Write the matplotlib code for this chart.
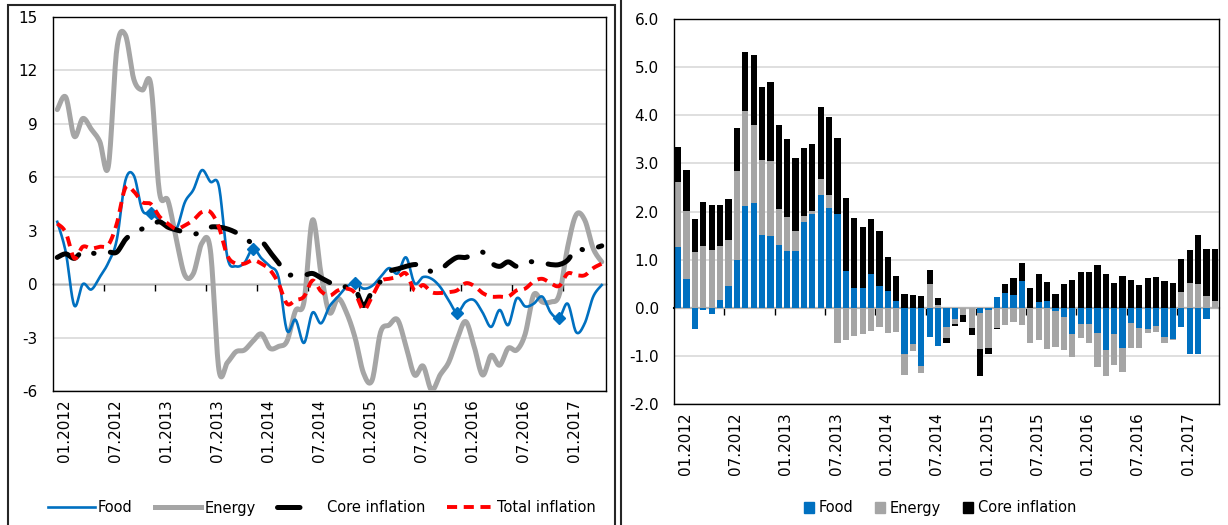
import numpy as np
import matplotlib
matplotlib.use("Agg")
import matplotlib.pyplot as plt
from matplotlib.lines import Line2D
from matplotlib.patches import Patch, Rectangle
import matplotlib.transforms as mtransforms

plt.rcParams['font.family'] = ['DejaVu Sans']
plt.rcParams['axes.unicode_minus'] = False

# ---------------- data (monthly, 01.2012 - 05.2017) ----------------
tick_labels = ["01.2012", "07.2012", "01.2013", "07.2013", "01.2014", "07.2014",
               "01.2015", "07.2015", "01.2016", "07.2016", "01.2017"]

# left panel: annual rates (%)
food_yoy = [3.5, 1.8, -1.2, 0.0, -0.3, 0.4, 1.2, 2.5, 5.8, 6.1,
            4.15, 4.0, 3.6, 3.3, 3.1, 4.6, 5.3, 6.4, 5.75, 5.5,
            1.5, 1.0, 1.2, 2.0, 1.45, 1.0, 0.4, -2.6, -2.0, -3.3,
            -1.6, -2.2, -1.25, -0.7, -0.15, 0.05, -0.25, -0.1, 0.4, 0.9,
            0.6, 1.5, 0.05, 0.4, 0.3, -0.15, -0.9, -1.6, -1.0, -0.9,
            -1.6, -2.4, -1.45, -2.3, -0.8, -1.25, -1.1, -0.7, -1.6, -1.9,
            -1.1, -2.7, -2.2, -0.7, -0.05]
energy_yoy = [9.8, 10.5, 8.3, 9.3, 8.7, 8.0, 6.6, 13.2, 14.0, 11.5,
              10.9, 11.2, 5.2, 4.7, 2.5, 0.5, 0.6, 2.3, 1.9, -4.8,
              -4.4, -3.8, -3.7, -3.2, -2.8, -3.6, -3.5, -3.2, -1.5, -1.0,
              3.6, 0.6, -1.6, -0.8, -1.6, -3.0, -5.0, -5.4, -2.7, -2.3,
              -2.0, -3.5, -5.1, -4.6, -5.95, -5.1, -4.4, -3.1, -2.1, -3.5,
              -5.1, -4.0, -4.55, -3.6, -3.7, -2.8, -0.6, -1.0, -1.0, -0.6,
              2.1, 3.9, 3.6, 2.0, 1.25]
core_yoy = [1.5, 1.7, 1.45, 1.85, 1.75, 1.7, 1.8, 1.8, 2.5, 2.9,
            3.1, 3.3, 3.5, 3.2, 3.05, 2.9, 2.8, 2.95, 3.2, 3.2,
            3.1, 2.9, 2.6, 2.3, 2.4, 1.8, 1.2, 0.55, 0.55, 0.5,
            0.6, 0.35, 0.1, -0.15, -0.15, -0.25, -1.2, -0.4, 0.15, 0.7,
            0.85, 1.0, 1.1, 1.05, 0.7, 0.8, 1.2, 1.5, 1.5, 1.7,
            1.8, 1.2, 1.0, 1.25, 1.0, 1.25, 1.25, 1.2, 1.1, 1.1,
            1.35, 2.0, 1.9, 2.0, 2.15]
total_yoy = [3.4, 2.9, 1.45, 2.1, 2.0, 2.1, 2.2, 3.4, 5.4, 5.2,
             4.6, 4.5, 3.8, 3.4, 3.1, 3.3, 3.6, 4.05, 4.05, 3.2,
             1.6, 1.15, 1.15, 1.35, 1.15, 0.8, 0.05, -1.1, -0.9, -0.7,
             0.2, -0.4, -0.65, -0.35, -0.25, -0.5, -1.45, -0.7, 0.15, 0.3,
             0.4, 0.6, -0.35, -0.05, -0.45, -0.5, -0.45, -0.35, 0.05, -0.1,
             -0.5, -0.7, -0.7, -0.7, -0.35, -0.25, 0.15, 0.3, 0.05, -0.1,
             0.6, 0.5, 0.5, 0.9, 1.15]

# right panel: contributions (pp)
food_contrib = [1.26, 0.60, -0.44, -0.04, -0.12, 0.17, 0.46, 1.00, 2.12, 2.17,
                1.51, 1.49, 1.30, 1.18, 1.18, 1.79, 1.94, 2.34, 2.08, 1.94,
                0.76, 0.42, 0.41, 0.71, 0.46, 0.35, 0.14, -0.96, -0.76, -1.21,
                -0.60, -0.80, -0.40, -0.23, 0.0, 0.0, -0.11, -0.05, 0.22, 0.31,
                0.26, 0.55, 0.0, 0.12, 0.14, -0.07, -0.19, -0.55, -0.33, -0.34,
                -0.53, -0.88, -0.55, -0.84, -0.31, -0.42, -0.44, -0.37, -0.61, -0.64,
                -0.40, -0.97, -0.96, -0.24, 0.0]
energy_contrib = [1.35, 1.42, 1.15, 1.29, 1.19, 1.11, 0.95, 1.85, 1.97, 1.63,
                  1.55, 1.56, 0.76, 0.71, 0.41, 0.12, 0.08, 0.33, 0.27, -0.73,
                  -0.68, -0.58, -0.55, -0.49, -0.41, -0.53, -0.51, -0.44, -0.14, -0.14,
                  0.49, 0.06, -0.23, -0.10, -0.15, -0.42, -0.75, -0.78, -0.42, -0.35,
                  -0.29, -0.36, -0.74, -0.68, -0.85, -0.74, -0.68, -0.47, -0.29, -0.40,
                  -0.70, -0.54, -0.63, -0.49, -0.53, -0.42, -0.09, -0.14, -0.13, -0.04,
                  0.33, 0.51, 0.50, 0.24, 0.15]
core_contrib = [0.74, 0.85, 0.70, 0.91, 0.94, 0.86, 0.86, 0.88, 1.23, 1.46,
                1.53, 1.64, 1.74, 1.61, 1.52, 1.41, 1.39, 1.50, 1.61, 1.58,
                1.53, 1.45, 1.26, 1.13, 1.13, 0.70, 0.53, 0.28, 0.26, 0.24,
                0.29, 0.15, -0.10, -0.05, -0.15, -0.14, -0.55, -0.13, -0.02, 0.19,
                0.35, 0.39, 0.42, 0.58, 0.39, 0.28, 0.49, 0.58, 0.75, 0.74,
                0.88, 0.71, 0.51, 0.67, 0.58, 0.48, 0.62, 0.64, 0.56, 0.51,
                0.69, 0.69, 1.02, 0.99, 1.07]

BLUE = '#0070C0'
GRAY = '#A5A5A5'
RED = '#FF0000'
GRID = '#D9D9D9'
FS = 10
FS_TICK = 11

W, H = 1228, 525
fig = plt.figure(figsize=(W / 100, H / 100), dpi=100)


def px_rect(l, t, r, b):
    return [l / W, 1 - b / H, (r - l) / W, (b - t) / H]


def smooth(xv, yv, k=16):
    """Excel-style smoothed line: cubic Bezier through the points (Catmull-Rom tangents)."""
    p = np.column_stack([xv, yv]).astype(float)
    pp = np.vstack([p[0], p, p[-1]])
    t = np.linspace(0, 1, k, endpoint=False)[:, None]
    out = []
    for i in range(len(p) - 1):
        p0, p1, p2, p3 = pp[i], pp[i + 1], pp[i + 2], pp[i + 3]
        c1 = p1 + (p2 - p0) / 6.0
        c2 = p2 - (p3 - p1) / 6.0
        seg = ((1 - t) ** 3) * p1 + 3 * ((1 - t) ** 2) * t * c1 + 3 * (1 - t) * t ** 2 * c2 + t ** 3 * p2
        out.append(seg)
    out.append(p[-1][None, :])
    out = np.vstack(out)
    return out[:, 0], out[:, 1]


n = len(food_yoy)
x = np.arange(n)
tick_pos = np.arange(0, n, 6)[:len(tick_labels)]
bound_pos = np.arange(5.5, n - 1, 6)
label_shift = mtransforms.ScaledTranslation(7 / 100, 0, fig.dpi_scale_trans)

# ---------------- left panel ----------------
axL = fig.add_axes(px_rect(53, 17, 606, 391))
axL.set_xlim(-0.5, n - 0.5)
axL.set_ylim(-6, 15)
axL.set_yticks(np.arange(-6, 16, 3))
axL.yaxis.grid(True, color=GRID, lw=1.2)
axL.set_axisbelow(True)
for s in axL.spines.values():
    s.set_color('#000000')
    s.set_linewidth(1.0)
axL.tick_params(axis='y', length=0, pad=11, labelsize=FS_TICK)
axL.set_xticks(tick_pos)
axL.set_xticklabels(tick_labels, rotation=90, fontsize=FS_TICK, va='top', ha='center')
axL.tick_params(axis='x', length=0, pad=6)
for lbl in axL.get_xticklabels():
    lbl.set_transform(lbl.get_transform() + label_shift)

secL = axL.secondary_xaxis(6 / 21)
secL.set_xticks(bound_pos)
secL.set_xticklabels([])
secL.tick_params(direction='out', length=5, width=1, color='black')
secL.spines['bottom'].set_color('black')
secL.spines['bottom'].set_linewidth(1.0)

sx, sy = smooth(x, food_yoy)
axL.plot(sx, sy, color=BLUE, lw=1.9, zorder=4)
axL.plot(x[11::12], np.asarray(food_yoy)[11::12], ls='none', marker='D', ms=6,
         color=BLUE, zorder=5)
sx, sy = smooth(x, energy_yoy)
axL.plot(sx, sy, color=GRAY, lw=3.6, zorder=3, solid_capstyle='round')
core_ls = (0, (5, 3.3, 0.1, 3.3))
sx, sy = smooth(x, core_yoy)
axL.plot(sx, sy, color='black', lw=3.6, ls=core_ls, dash_capstyle='round', zorder=5)
total_ls = (0, (2.6, 1.7))
sx, sy = smooth(x, total_yoy)
axL.plot(sx, sy, color=RED, lw=2.8, ls=total_ls, zorder=6)

handlesL = [
    Line2D([], [], color=BLUE, lw=1.9, label='Food'),
    Line2D([], [], color=GRAY, lw=3.6, label='Energy'),
    Line2D([], [], color='black', lw=3.6, ls=(0, (4.5, 12)), dash_capstyle='round',
           label='Core inflation'),
    Line2D([], [], color=RED, lw=2.8, ls=total_ls, label='Total inflation'),
]
axL.legend(handles=handlesL, loc='center', bbox_to_anchor=(322 / W, 1 - 508 / H),
           bbox_transform=fig.transFigure, ncol=4, frameon=False, fontsize=FS + 0.5,
           handlelength=3.2, handletextpad=0.2, columnspacing=1.5, borderpad=0)

# ---------------- right panel ----------------
axR = fig.add_axes(px_rect(674, 19, 1219, 404))
axR.set_xlim(-0.5, n - 0.5)
axR.set_ylim(-2, 6)
yt = np.arange(-2, 6.01, 1)
axR.set_yticks(yt)
axR.set_yticklabels([f"{v:.1f}" for v in yt])
axR.yaxis.grid(True, color=GRID, lw=1.2)
axR.set_axisbelow(True)
for s in axR.spines.values():
    s.set_color('#000000')
    s.set_linewidth(1.0)
axR.tick_params(axis='y', length=0, pad=11, labelsize=FS_TICK)
axR.set_xticks(tick_pos)
axR.set_xticklabels(tick_labels, rotation=90, fontsize=FS_TICK, va='top', ha='center')
axR.tick_params(axis='x', length=0, pad=6)
for lbl in axR.get_xticklabels():
    lbl.set_transform(lbl.get_transform() + label_shift)

secR = axR.secondary_xaxis(2 / 8)
secR.set_xticks(bound_pos)
secR.set_xticklabels([])
secR.tick_params(direction='out', length=5, width=1, color='black')
secR.spines['bottom'].set_color('black')
secR.spines['bottom'].set_linewidth(1.5)

series = [(food_contrib, BLUE, 'Food'), (energy_contrib, GRAY, 'Energy'),
          (core_contrib, '#000000', 'Core inflation')]
pos_base = np.zeros(n)
neg_base = np.zeros(n)
for vals, col, name in series:
    v = np.asarray(vals, dtype=float)
    bottom = np.where(v >= 0, pos_base, neg_base)
    axR.bar(x, v, bottom=bottom, width=0.74, color=col, edgecolor='none', label=name, zorder=2)
    pos_base = pos_base + np.where(v >= 0, v, 0)
    neg_base = neg_base + np.where(v < 0, v, 0)

handlesR = [Patch(color=c, label=l) for _, c, l in series]
axR.legend(handles=handlesR, loc='center', bbox_to_anchor=(940 / W, 1 - 508 / H),
           bbox_transform=fig.transFigure, ncol=3, frameon=False, fontsize=FS + 0.5,
           handlelength=0.7, handleheight=0.7, handletextpad=0.3,
           columnspacing=1.5, borderpad=0)

# ---------------- panel frames ----------------
fig.add_artist(Rectangle((8 / W, -0.05), (615 - 8) / W, 1.05 - 5 / H, transform=fig.transFigure,
                         fill=False, edgecolor='#262626', lw=1.5))
fig.add_artist(Line2D([621 / W, 621 / W], [0, 1], transform=fig.transFigure,
                      color='#262626', lw=1.5))

fig.savefig('out.png', dpi=100)
